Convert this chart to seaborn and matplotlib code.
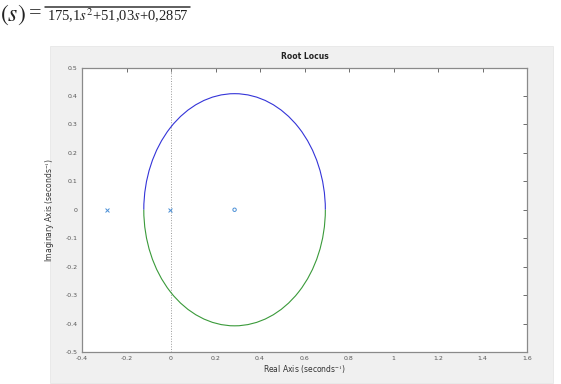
import numpy as np
import pandas as pd
import matplotlib
matplotlib.use("Agg")
import matplotlib.pyplot as plt
import seaborn as sns
from matplotlib.patches import Arc, Rectangle

# ---- data ----
pole_re = [-0.2857, -0.0057]
pole_im = [0.0, 0.0]
zero_re = [0.2857]
zero_im = [0.0]
locus_center = 0.2857
locus_radius = 0.408
x_ticks = [-0.4, -0.2, 0, 0.2, 0.4, 0.6, 0.8, 1, 1.2, 1.4, 1.6]
y_ticks = [-0.5, -0.4, -0.3, -0.2, -0.1, 0, 0.1, 0.2, 0.3, 0.4, 0.5]
x_tick_labels = ["-0.4", "-0.2", "0", "0.2", "0.4", "0.6", "0.8", "1", "1.2", "1.4", "1.6"]
y_tick_labels = ["-0.5", "-0.4", "-0.3", "-0.2", "-0.1", "0", "0.1", "0.2", "0.3", "0.4", "0.5"]

sns.set_theme(style="white")
plt.rcParams['font.family'] = ['DejaVu Sans']
plt.rcParams['mathtext.fontset'] = 'stix'

W, H = 561, 384
fig = plt.figure(figsize=(W / 100, H / 100), dpi=100)
fig.patch.set_facecolor("white")

# gray figure panel
fig.patches.append(Rectangle((50 / W, 1 - 383 / H), (553 - 50) / W, (383 - 46) / H,
                             transform=fig.transFigure, facecolor="#f0f0f0",
                             edgecolor="#e4e4e4", lw=0.5, zorder=-5))

# equation fragment at top
fig.text(0 / W, 1 - 15 / H, "$(s)$", fontsize=17, va="center", ha="left", color="#222222")
fig.text(29 / W, 1 - 14 / H, "=", fontsize=16, family="Liberation Serif",
         va="center", ha="left", color="#222222")
fig.add_artist(plt.Line2D([45 / W, 190 / W], [1 - 6.5 / H, 1 - 6.5 / H],
                          transform=fig.transFigure, color="#333333", lw=1.1))
fig.text(118 / W, 1 - 16 / H, "175,1$s^2$+51,03$s$+0,2857", fontsize=10.5,
         family="Liberation Serif", va="center", ha="center", color="#222222")

ax = fig.add_axes([82 / W, 1 - 352 / H, (527 - 82) / W, (352 - 67.5) / H])
ax.set_zorder(2)
ax.set_facecolor("white")

poles = pd.DataFrame({"re": pole_re, "im": pole_im})
zeros = pd.DataFrame({"re": zero_re, "im": zero_im})

# imaginary axis
ax.axvline(0, color="#9a9a9a", ls=":", lw=0.7, zorder=1)

# root-locus branches
ax.add_patch(Arc((locus_center, 0), 2 * locus_radius, 2 * locus_radius,
                 theta1=0, theta2=180, color="#3434d8", lw=0.8, zorder=2))
ax.add_patch(Arc((locus_center, 0), 2 * locus_radius, 2 * locus_radius,
                 theta1=180, theta2=360, color="#3a9a3a", lw=0.8, zorder=2))

sns.scatterplot(data=poles, x="re", y="im", marker="x", s=8, color="#4a8fd6",
                linewidth=0.7, ax=ax, zorder=3)
sns.scatterplot(data=zeros, x="re", y="im", marker="o", s=6, facecolor="none",
                edgecolor="#4a8fd6", linewidth=0.7, ax=ax, zorder=3)

ax.set_xlim(-0.4, 1.6)
ax.set_ylim(-0.5, 0.5)
ax.set_xticks(x_ticks)
ax.set_xticklabels(x_tick_labels)
ax.set_yticks(y_ticks)
ax.set_yticklabels(y_tick_labels)
ax.tick_params(axis="both", direction="in", length=3, width=0.6, color="#555555",
               labelsize=4.5, labelcolor="#555555", top=True, right=True, pad=3)
for side, sp in ax.spines.items():
    sp.set_color("#8a8a8a")
    sp.set_linewidth(0.9)

ax.set_title("Root Locus", fontsize=5.5, fontweight="bold", color="#222222", pad=6)
ax.set_xlabel("Real Axis (seconds$^{-1}$)", fontsize=5.5, color="#333333", labelpad=2)
ax.set_ylabel("Imaginary Axis (seconds$^{-1}$)", fontsize=5.5, color="#333333", labelpad=6)

fig.savefig("out.png", dpi=100)
